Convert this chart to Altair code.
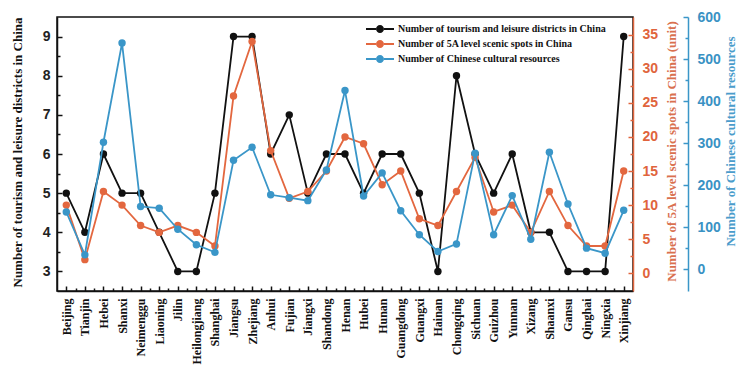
import json
import altair as alt
import pandas as pd

provinces = ["Beijing", "Tianjin", "Hebei", "Shanxi", "Neimenggu", "Liaoning", "Jilin",
             "Heilongjiang", "Shanghai", "Jiangsu", "Zhejiang", "Anhui", "Fujian", "Jiangxi",
             "Shandong", "Henan", "Hubei", "Hunan", "Guangdong", "Guangxi", "Hainan",
             "Chongqing", "Sichuan", "Guizhou", "Yunnan", "Xizang", "Shaanxi", "Gansu",
             "Qinghai", "Ningxia", "Xinjiang"]
districts = [5, 4, 6, 5, 5, 4, 3, 3, 5, 9, 9, 6, 7, 5, 6, 6, 5, 6, 6, 5, 3, 8, 6, 5, 6, 4, 4, 3, 3, 3, 9]
scenic = [10, 2, 12, 10, 7, 6, 7, 6, 4, 26, 34, 18, 11, 12, 15, 20, 19, 13, 15, 8, 7, 12, 17, 9, 10, 6, 12, 7, 4, 4, 15]
cultural = [136, 34, 302, 538, 149, 145, 95, 58, 40, 259, 290, 177, 170, 163, 236, 425, 174, 229,
            139, 82, 42, 60, 276, 82, 175, 71, 278, 155, 50, 38, 140]

names = ["Number of tourism and leisure districts in China",
         "Number of 5A level scenic spots in China",
         "Number of Chinese cultural resources"]
colors = ["#111111", "#E3673F", "#3A96C8"]
axis_titles = ["Number of tourism and leisure districts in China",
               "Number of 5A level scenic spots in China (unit)",
               "Number of Chinese cultural resources"]

rows = []
for s, vals in zip(names, [districts, scenic, cultural]):
    for i, (p, v) in enumerate(zip(provinces, vals)):
        rows.append({"idx": i, "province": p, "series": s, "value": v})
df = pd.DataFrame(rows)

domains = [[2.5, 9.5], [-2.6, 37.6], [-52, 600]]
major = [list(range(3, 10)), list(range(0, 40, 5)), list(range(0, 700, 100))]
minor = [[x + 0.5 for x in range(3, 9)], [x + 2.5 for x in range(0, 35, 5)],
         list(range(50, 600, 100))]

SERIF = "Liberation Serif"
SANS = "Liberation Sans"
label_expr = json.dumps(provinces).replace('"', "'") + "[datum.value]"

xscale = alt.Scale(domain=[-0.5, 30.5], nice=False, zero=False)
base = alt.Chart(df)

color_enc = alt.Color("series:N", scale=alt.Scale(domain=names, range=colors),
                      legend=alt.Legend(title=None))

layers = []
main_axes = [
    dict(orient="left", labelPadding=7, titleX=-40, titleY=135, domainColor=colors[0],
         labelColor="#222222", titleColor="#111111"),
    dict(orient="right", labelPadding=9, titleX=38, titleY=134, domainColor="#E0643C",
         labelColor="#E0643C", titleColor="#D9704F"),
    dict(orient="right", offset=55, labelPadding=9, titleX=42, titleY=124, domainColor="#3A96C8",
         labelColor="#3A92C4", titleColor="#4A9CCB"),
]
for k in range(3):
    sub = base.transform_filter(alt.datum.series == names[k])
    ysc = alt.Scale(domain=domains[k], nice=False, zero=False)
    ax = alt.Axis(values=major[k], ticks=False, grid=False, domainWidth=1.5,
                  labelFont=SANS, labelFontWeight="bold", labelFontSize=14,
                  title=axis_titles[k], titleFont=SERIF, titleFontWeight="bold", titleFontSize=13,
                  titleAngle=270, titleBaseline="middle", labelFlush=False, **main_axes[k])
    if k == 0:
        xax = alt.Axis(values=list(range(31)), labelExpr=label_expr, labelAngle=270, ticks=False,
                       labelPadding=7, labelFont=SERIF, labelFontWeight="bold", labelFontSize=12,
                       labelColor="#111111", labelOverlap=False, labelFlush=False, grid=False,
                       domainColor="#111111", domainWidth=1.5, title="", orient="bottom")
        xenc = alt.X("idx:Q", scale=xscale, axis=xax)
    else:
        xenc = alt.X("idx:Q", scale=xscale, axis=None)
    line = sub.mark_line(color=colors[k], strokeWidth=1.8).encode(
        x=xenc, y=alt.Y("value:Q", scale=ysc, axis=ax))
    pts = sub.mark_circle(size=55, opacity=1).encode(
        x=alt.X("idx:Q", scale=xscale, axis=None),
        y=alt.Y("value:Q", scale=ysc, axis=None),
        color=color_enc)
    layers += [line, pts]

# inward tick marks on the y axes
tick_specs = [
    (0, "left", -5, 5, major[0], "#111111"), (0, "left", -3, 3, minor[0], "#111111"),
    (1, "right", -5, 5, major[1], "#E0643C"), (1, "right", -3, 3, minor[1], "#E0643C"),
    (2, "right", 50, 5, major[2], "#3A96C8"), (2, "right", 52, 3, minor[2], "#3A96C8"),
]
for k, orient, off, size, vals, col in tick_specs:
    sub = base.transform_filter(alt.datum.series == names[k])
    ysc = alt.Scale(domain=domains[k], nice=False, zero=False)
    layers.append(sub.mark_point(opacity=0).encode(
        y=alt.Y("value:Q", scale=ysc,
                axis=alt.Axis(orient=orient, offset=off, tickSize=size, tickWidth=1.5, tickColor=col,
                              values=vals, labels=False, domain=False, grid=False, title=""))))

# inward tick marks on the x axis
for off, size, vals in [(-5, 5, list(range(31))), (-3, 3, [i + 0.5 for i in range(30)])]:
    sub = base.transform_filter(alt.datum.series == names[0])
    layers.append(sub.mark_point(opacity=0).encode(
        x=alt.X("idx:Q", scale=xscale,
                axis=alt.Axis(orient="bottom", offset=off, tickSize=size, tickWidth=1.5,
                              tickColor="#111111", values=vals, labels=False, domain=False,
                              grid=False, title="")),
        y=alt.Y("value:Q", scale=alt.Scale(domain=domains[0], nice=False, zero=False), axis=None)))

chart = alt.layer(*layers).resolve_scale(y="independent").resolve_axis(
    x="independent", y="independent"
).properties(
    width=576, height=274,
    padding={"left": 49, "top": 9, "right": 103, "bottom": 75},
    autosize=alt.AutoSizeParams(type="none"),
    background="white",
).configure_view(
    stroke="#111111", strokeWidth=1.5
).configure_legend(
    orient="none", legendX=318, legendY=7, padding=0,
    symbolType="M-2.8,-0.2H-0.8V0.2H-2.8Z M0.8,-0.2H2.8V0.2H0.8Z "
               "M-0.8,0A0.8,0.8,0,1,1,0.8,0A0.8,0.8,0,1,1,-0.8,0Z",
    symbolSize=100, symbolStrokeWidth=0, symbolOpacity=1,
    labelFont=SERIF, labelFontWeight="bold", labelFontSize=10, labelColor="#111111",
    labelOffset=13, rowPadding=5, labelLimit=400,
)

chart.save("out.html", embed_options={"renderer": "svg", "actions": False})
